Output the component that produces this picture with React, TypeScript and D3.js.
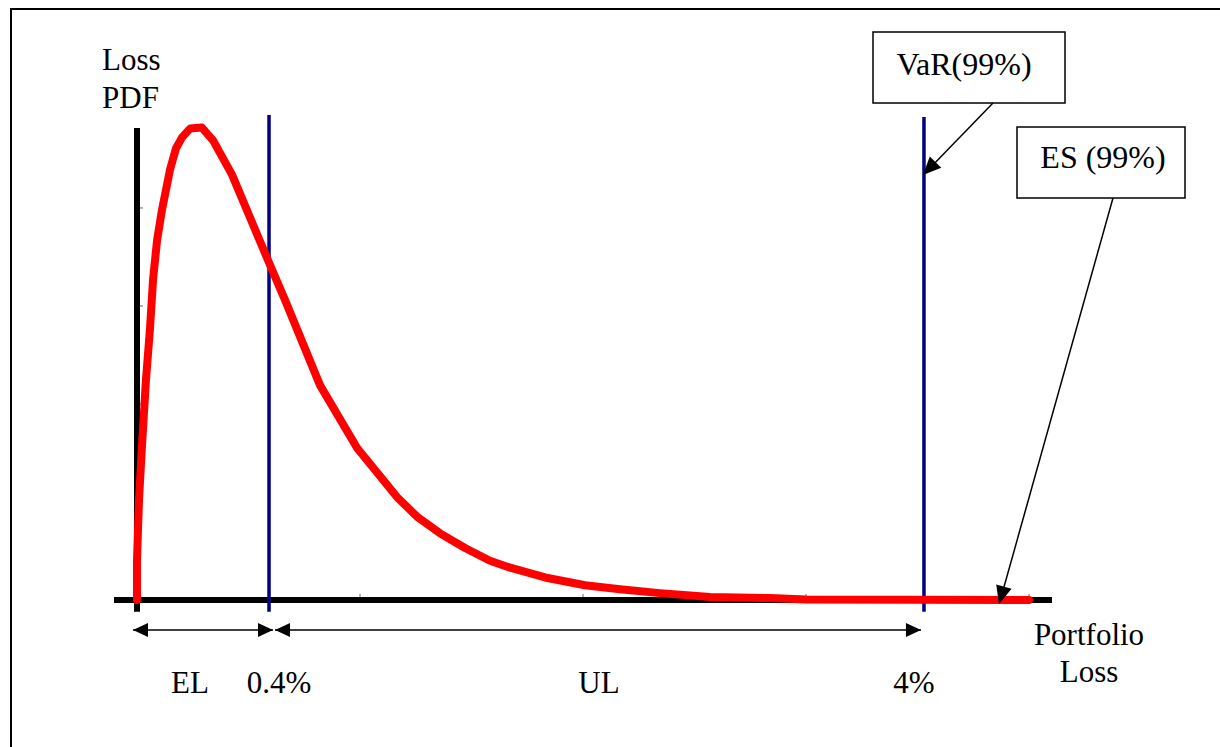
import React from "react";
import * as d3 from "d3";

// Loss distribution (schematic units: one x tick = 1, one y tick = 1)
const lossX = [0, 0, 0.009, 0.022, 0.04, 0.058, 0.072, 0.09, 0.112, 0.148, 0.175, 0.202, 0.238, 0.291, 0.341, 0.426, 0.596, 0.664, 0.821, 0.987, 1.166, 1.256, 1.359, 1.471, 1.583, 1.673, 1.83, 2.009, 2.166, 2.345, 2.57, 2.839, 3.0, 4.0];
const pdfY = [0, 0.41, 1.02, 1.56, 2.24, 2.76, 3.27, 3.67, 3.98, 4.39, 4.61, 4.72, 4.81, 4.82, 4.69, 4.34, 3.42, 3.06, 2.19, 1.55, 1.05, 0.85, 0.68, 0.53, 0.40, 0.33, 0.23, 0.15, 0.11, 0.07, 0.03, 0.02, 0.005, 0];

const xTicks = [1, 2, 3, 4];
const yTicks = [1, 2, 3, 4];

const elX = 0.592; // EL marker (0.4%)
const varX = 3.529; // VaR marker (4%)
const esX = 3.87; // ES arrow target

const yAxisLabel = ["Loss", "PDF"];
const xAxisLabel = ["Portfolio", "Loss"];
const rangeLabels = ["EL", "0.4%", "UL", "4%"];
const varLabel = "VaR(99%)";
const esLabel = "ES (99%)";

const W = 1220;
const H = 747;
const FONT = "Liberation Serif";

function arrowHead(tipX: number, tipY: number, fromX: number, fromY: number, len = 15, half = 7) {
  const dx = tipX - fromX;
  const dy = tipY - fromY;
  const d = Math.sqrt(dx * dx + dy * dy) || 1;
  const ux = dx / d;
  const uy = dy / d;
  const bx = tipX - ux * len;
  const by = tipY - uy * len;
  const px = -uy * half;
  const py = ux * half;
  return `M${tipX},${tipY}L${bx + px},${by + py}L${bx - px},${by - py}Z`;
}

const T = (props: any) => <text style={{ fontFamily: FONT }} fill="#000" {...props} />;

export default function App() {
  const x = d3.scaleLinear().domain([0, 4]).range([137, 1029]);
  const y = d3.scaleLinear().domain([0, 4.816]).range([600, 128]);

  const line = d3
    .line<number>()
    .x((_, i) => x(lossX[i]))
    .y((d) => y(d));

  const y0 = y(0);
  const arrowY = 630;

  const vLines = [elX, varX];

  // annotation boxes (layout)
  const varBox = { x: 873, y: 32, w: 192, h: 71 };
  const esBox = { x: 1017, y: 127, w: 168, h: 71 };

  const varFrom = [993, varBox.y + varBox.h];
  const varTip = [x(varX) - 1, 175];
  const esFrom = [1113, esBox.y + esBox.h];
  const esTip = [x(esX) - 1, 604];

  return (
    <svg width={W} height={H} style={{ position: "absolute", left: 0, top: 0, background: "#fff" }}>
      {/* outer frame */}
      <rect x={11} y={9} width={W + 20} height={H + 20} fill="none" stroke="#000" strokeWidth={2} />

      {/* ticks */}
      {xTicks.map((t) => (
        <line key={"xt" + t} x1={x(t)} x2={x(t)} y1={y0} y2={y0 - 6} stroke="#666" strokeWidth={1} />
      ))}
      {yTicks.map((t) => (
        <line key={"yt" + t} x1={x(0)} x2={x(0) + 6} y1={y(t)} y2={y(t)} stroke="#666" strokeWidth={1} />
      ))}

      {/* axes */}
      <line x1={x(0)} x2={x(0)} y1={y(-0.12)} y2={y(4.816)} stroke="#000" strokeWidth={6} />
      <line x1={x(-0.103)} x2={x(4.103)} y1={y0} y2={y0} stroke="#000" strokeWidth={6} />

      {/* EL & VaR vertical lines */}
      {vLines.map((v, i) => (
        <line key={"v" + i} x1={x(v)} x2={x(v)} y1={y(-0.12)} y2={i === 0 ? 115 : 117} stroke="#000080" strokeWidth={3.5} />
      ))}

      {/* loss PDF curve */}
      <path d={line(pdfY) || ""} fill="none" stroke="#ff0000" strokeWidth={8} strokeLinejoin="round" strokeLinecap="round" />

      {/* range arrows */}
      <line x1={x(0) - 4} x2={x(elX) + 4} y1={arrowY} y2={arrowY} stroke="#000" strokeWidth={1.5} />
      <path d={arrowHead(x(0) - 4, arrowY, x(elX), arrowY)} fill="#000" />
      <path d={arrowHead(x(elX) + 4, arrowY, x(0), arrowY)} fill="#000" />
      <line x1={x(elX) + 6} x2={x(varX) - 3} y1={arrowY} y2={arrowY} stroke="#000" strokeWidth={1.5} />
      <path d={arrowHead(x(elX) + 6, arrowY, x(varX), arrowY)} fill="#000" />
      <path d={arrowHead(x(varX) - 3, arrowY, x(elX), arrowY)} fill="#000" />

      {/* axis labels */}
      <T x={102} y={70} fontSize={31}>{yAxisLabel[0]}</T>
      <T x={102} y={108} fontSize={31}>{yAxisLabel[1]}</T>
      <T x={1089} y={645} fontSize={31} textAnchor="middle">{xAxisLabel[0]}</T>
      <T x={1089} y={682} fontSize={31} textAnchor="middle">{xAxisLabel[1]}</T>

      {/* range labels */}
      <T x={190} y={693} fontSize={31} textAnchor="middle">{rangeLabels[0]}</T>
      <T x={x(elX) + 10} y={693} fontSize={31} textAnchor="middle">{rangeLabels[1]}</T>
      <T x={599} y={693} fontSize={31} textAnchor="middle">{rangeLabels[2]}</T>
      <T x={x(varX) - 10} y={693} fontSize={31} textAnchor="middle">{rangeLabels[3]}</T>

      {/* VaR box */}
      <rect x={varBox.x} y={varBox.y} width={varBox.w} height={varBox.h} fill="#fff" stroke="#000" strokeWidth={1.5} />
      <T x={varBox.x + varBox.w / 2 - 5} y={75} fontSize={32} textAnchor="middle">{varLabel}</T>
      <line x1={varFrom[0]} y1={varFrom[1]} x2={varTip[0] + 8} y2={varTip[1] - 8} stroke="#000" strokeWidth={1.5} />
      <path d={arrowHead(varTip[0], varTip[1], varFrom[0], varFrom[1], 18, 8)} fill="#000" />

      {/* ES box */}
      <rect x={esBox.x} y={esBox.y} width={esBox.w} height={esBox.h} fill="#fff" stroke="#000" strokeWidth={1.5} />
      <T x={esBox.x + esBox.w / 2 + 2} y={168} fontSize={32} textAnchor="middle">{esLabel}</T>
      <line x1={esFrom[0]} y1={esFrom[1]} x2={esTip[0] + 3} y2={esTip[1] - 10} stroke="#000" strokeWidth={1.5} />
      <path d={arrowHead(esTip[0], esTip[1], esFrom[0], esFrom[1], 18, 8)} fill="#000" />
    </svg>
  );
}
